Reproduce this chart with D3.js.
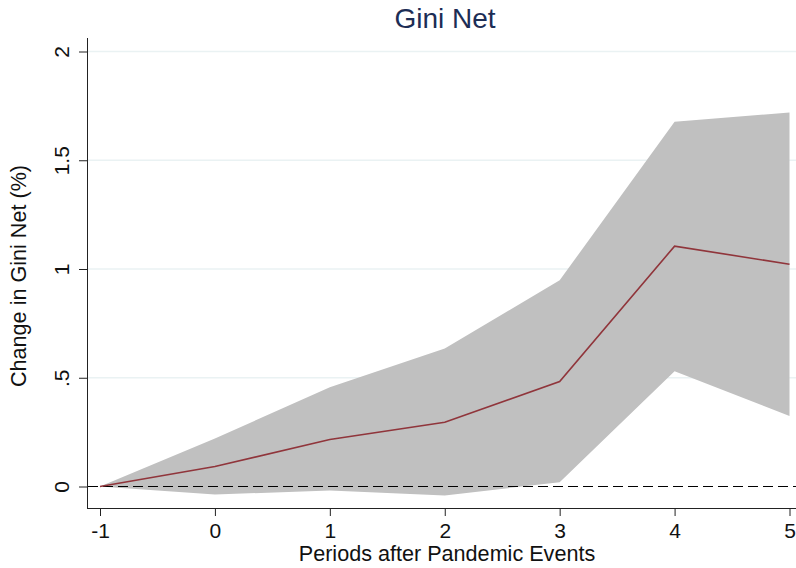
<!DOCTYPE html>
<html>
<head>
<meta charset="utf-8">
<script src="https://cdn.jsdelivr.net/npm/d3@7"></script>
<style>
  body { margin: 0; background: #fff; }
  text { font-family: "Liberation Sans", Arial, sans-serif; }
</style>
</head>
<body>
<script>
// periods after event
let periods = [-1, 0, 1, 2, 3, 4, 5];
// point estimate and confidence band
let estimate = [0, 0.092, 0.216, 0.295, 0.483, 1.105, 1.022];
let upper = [0, 0.221, 0.456, 0.635, 0.948, 1.677, 1.72];
let lower = [0, -0.037, -0.018, -0.041, 0.02, 0.53, 0.324];
let yTicks = [0, 0.5, 1, 1.5, 2];
let yTickLabels = ['0', '.5', '1', '1.5', '2'];

const W = 796, H = 568;

const x = d3.scaleLinear().domain([-1, 5]).range([100, 789.5]);
const y = d3.scaleLinear().domain([0, 2]).range([486.5, 51.5]);

const svg = d3.select('body').append('svg')
  .attr('width', W).attr('height', H)
  .attr('xmlns', 'http://www.w3.org/2000/svg');

// gridlines
svg.append('g').selectAll('line')
  .data(yTicks.filter(d => d > 0))
  .enter().append('line')
  .attr('x1', 88).attr('x2', W)
  .attr('y1', d => y(d)).attr('y2', d => y(d))
  .attr('stroke', '#eaf2f3').attr('stroke-width', 1.5);

const rows = periods.map((p, i) => ({p, est: estimate[i], lo: lower[i], hi: upper[i]}));

// confidence band
svg.append('path')
  .datum(rows)
  .attr('d', d3.area().x(d => x(d.p)).y0(d => y(d.lo)).y1(d => y(d.hi)))
  .attr('fill', '#c0c0c0');

// zero reference
svg.append('line')
  .attr('x1', 88).attr('x2', W)
  .attr('y1', y(0)).attr('y2', y(0))
  .attr('stroke', '#000').attr('stroke-width', 1)
  .attr('stroke-dasharray', '10,5');

// estimate line
svg.append('path')
  .datum(rows)
  .attr('d', d3.line().x(d => x(d.p)).y(d => y(d.est)))
  .attr('fill', 'none')
  .attr('stroke', '#90353b')
  .attr('stroke-width', 1.6);

// x axis
const xAxis = svg.append('g')
  .attr('transform', 'translate(0,508)')
  .call(d3.axisBottom(x).tickValues(periods).tickFormat(d => String(d)).tickSize(8).tickSizeOuter(0));
xAxis.select('.domain').attr('d', 'M87,0.5H' + W).attr('stroke', '#222');
xAxis.selectAll('.tick line').attr('stroke', '#222');
xAxis.selectAll('.tick text').attr('font-size', 21).attr('fill', '#111').attr('y', 30).attr('dy', 0);

// y axis
const yAxis = svg.append('g')
  .attr('transform', 'translate(87,0)')
  .call(d3.axisLeft(y).tickValues(yTicks).tickFormat((d, i) => yTickLabels[i]).tickSize(8).tickSizeOuter(0));
yAxis.select('.domain').attr('d', 'M0.5,38V508').attr('stroke', '#222');
yAxis.selectAll('.tick line').attr('stroke', '#222');
yAxis.selectAll('.tick text')
  .attr('font-size', 21).attr('fill', '#111')
  .attr('x', 0).attr('dy', 0)
  .attr('text-anchor', 'middle')
  .attr('transform', 'translate(-18,0) rotate(-90)');

// title and axis labels
svg.append('text')
  .attr('x', 445).attr('y', 28)
  .attr('text-anchor', 'middle')
  .attr('font-size', 28).attr('fill', '#1c2d55')
  .text('Gini Net');

svg.append('text')
  .attr('x', 447).attr('y', 561)
  .attr('text-anchor', 'middle')
  .attr('font-size', 21.6).attr('fill', '#111')
  .text('Periods after Pandemic Events');

svg.append('text')
  .attr('transform', 'translate(26,276) rotate(-90)')
  .attr('text-anchor', 'middle')
  .attr('font-size', 21.6).attr('fill', '#111')
  .text('Change in Gini Net (%)');
</script>
</body>
</html>
